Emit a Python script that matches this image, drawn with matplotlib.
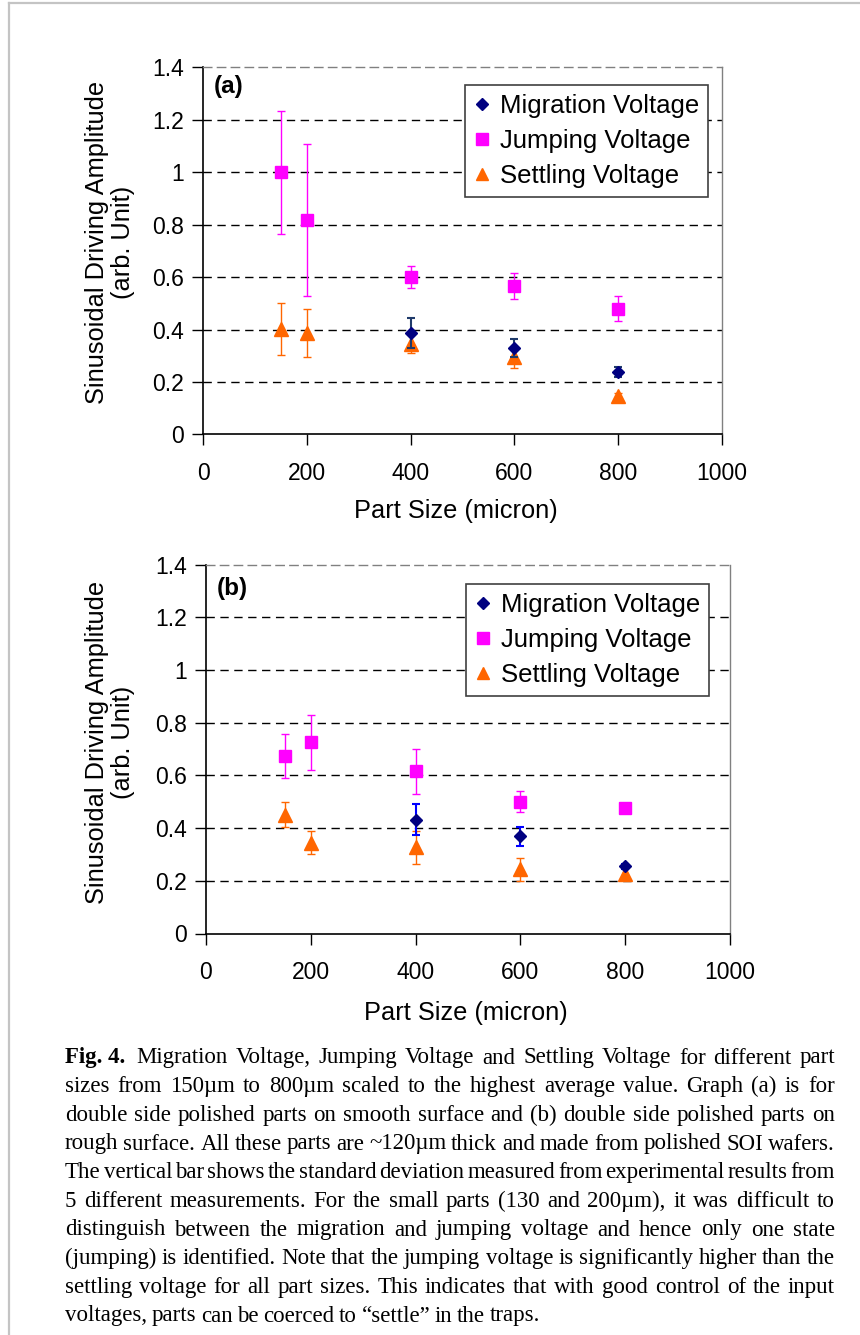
import matplotlib
matplotlib.use("Agg")
import matplotlib.pyplot as plt
from matplotlib.lines import Line2D

# ---------------- data ----------------
sizes = [150, 200, 400, 600, 800]
mig_sizes = [400, 600, 800]

a_jump = [1.00, 0.82, 0.60, 0.565, 0.48]
a_jump_err = [0.235, 0.29, 0.043, 0.05, 0.047]
a_mig = [0.387, 0.331, 0.239]
a_mig_err = [0.058, 0.035, 0.018]
a_set = [0.403, 0.387, 0.347, 0.295, 0.146]
a_set_err = [0.10, 0.09, 0.035, 0.04, 0.012]

b_jump = [0.675, 0.726, 0.615, 0.501, 0.476]
b_jump_err = [0.084, 0.104, 0.085, 0.04, 0.0]
b_mig = [0.432, 0.369, 0.255]
b_mig_err = [0.059, 0.035, 0.01]
b_set = [0.451, 0.344, 0.327, 0.243, 0.227]
b_set_err = [0.048, 0.044, 0.062, 0.044, 0.025]

xticks = [0, 200, 400, 600, 800, 1000]
yticks = [0, 0.2, 0.4, 0.6, 0.8, 1.0, 1.2, 1.4]
ytick_labels = ["0", "0.2", "0.4", "0.6", "0.8", "1", "1.2", "1.4"]
series_names = ["Migration Voltage", "Jumping Voltage", "Settling Voltage"]

caption_lines = [
    "Migration Voltage, Jumping Voltage and Settling Voltage for different part",
    "sizes from 150\u00b5m to 800\u00b5m scaled to the highest average value. Graph (a) is for",
    "double side polished parts on smooth surface and (b) double side polished parts on",
    "rough surface. All these parts are ~120\u00b5m thick and made from polished SOI wafers.",
    "The vertical bar shows the standard deviation measured from experimental results from",
    "5 different measurements. For the small parts (130 and 200\u00b5m), it was difficult to",
    "distinguish between the migration and jumping voltage and hence only one state",
    "(jumping) is identified. Note that the jumping voltage is significantly higher than the",
    "settling voltage for all part sizes. This indicates that with good control of the input",
    "voltages, parts can be coerced to \u201csettle\u201d in the traps.",
]

# ---------------- style ----------------
W, H = 860, 1335
plt.rcParams['font.family'] = ['Liberation Sans', 'DejaVu Sans']
NAVY = "#000080"
MAG = "#FF00FF"
ORA = "#FF6600"
TICK_FS = 16.5
LAB_FS = 18.3
LEG_FS = 18.5

fig = plt.figure(figsize=(W / 100, H / 100), dpi=100)


def px_axes(l, t, r, b):
    return [l / W, 1 - b / H, (r - l) / W, (b - t) / H]


def make_panel(rect, label, jump, jump_err, mig, mig_err, sett, sett_err,
               mig_err_color, leg_anchor, ylab_xy, label_xy):
    ax = fig.add_axes(rect)
    ax.set_xlim(0, 1000)
    ax.set_ylim(0, 1.4)
    ax.set_xticks(xticks)
    ax.set_yticks(yticks)
    ax.set_yticklabels(ytick_labels)
    ax.tick_params(axis='both', labelsize=TICK_FS, direction='out', length=8,
                   width=1, color='black')
    ax.tick_params(axis='x', pad=12)
    ax.tick_params(axis='y', pad=6)
    for yv in yticks[1:-1]:
        ax.axhline(yv, color='black', lw=1, ls=(0, (6, 4)), zorder=1)
    ax.spines['left'].set_color('black')
    ax.spines['bottom'].set_color('black')
    ax.spines['left'].set_linewidth(1.2)
    ax.spines['bottom'].set_linewidth(1.2)
    ax.spines['top'].set_color('#808080')
    ax.spines['top'].set_linestyle((0, (6, 4)))
    ax.spines['right'].set_color('#808080')
    ax.spines['top'].set_linewidth(1)
    ax.spines['right'].set_linewidth(1)

    ax.errorbar(sizes, jump, yerr=jump_err, fmt='s', color=MAG, ms=8.5,
                ecolor=MAG, elinewidth=1.0, capsize=3, capthick=1.0, zorder=3)
    ax.errorbar(mig_sizes, mig, yerr=mig_err, fmt='D', color=NAVY, ms=6,
                ecolor=mig_err_color, elinewidth=1.5, capsize=3, capthick=1.5,
                zorder=5)
    ax.errorbar(sizes, sett, yerr=sett_err, fmt='^', color=ORA, ms=9.5,
                ecolor=ORA, elinewidth=1.0, capsize=3, capthick=1.0, zorder=4)

    handles = [Line2D([], [], marker='D', color=NAVY, ls='none', ms=6),
               Line2D([], [], marker='s', color=MAG, ls='none', ms=8.5),
               Line2D([], [], marker='^', color=ORA, ls='none', ms=9)]
    leg = ax.legend(handles, series_names, loc='upper right',
                    bbox_to_anchor=leg_anchor, bbox_transform=fig.transFigure,
                    fontsize=LEG_FS, frameon=True, fancybox=False,
                    edgecolor='#404040', framealpha=1, borderpad=0.35,
                    handlelength=0.6, handletextpad=0.4, labelspacing=0.42,
                    borderaxespad=0)
    leg.get_frame().set_linewidth(1.2)

    ax.set_xlabel("Part Size (micron)", fontsize=LAB_FS)
    ax.set_ylabel("Sinusoidal Driving Amplitude\n(arb. Unit)", fontsize=LAB_FS,
                  linespacing=1.12)
    ax.yaxis.set_label_coords(*ylab_xy, transform=fig.transFigure)
    fig.text(label_xy[0], label_xy[1], label, fontsize=17.5,
             fontweight='bold', ha='left', va='center')
    return ax


# panel (a): plot area 203..722 x, 67.5..434.5 y (pixels)
axa = make_panel(px_axes(203, 67.5, 722, 434.5), "(a)",
                 a_jump, a_jump_err, a_mig, a_mig_err, a_set, a_set_err,
                 "#1F3A6A", (708 / W, 1 - 85 / H), (135 / W, 1 - 242 / H),
                 (214 / W, 1 - 87 / H))
axa.xaxis.set_label_coords(456 / W, 1 - 499 / H, transform=fig.transFigure)

# panel (b): plot area 206..730 x, 564.7..933.5 y
axb = make_panel(px_axes(206, 564.7, 730, 933.5), "(b)",
                 b_jump, b_jump_err, b_mig, b_mig_err, b_set, b_set_err,
                 "#0000FF", (709 / W, 1 - 584 / H), (135 / W, 1 - 742 / H),
                 (217 / W, 1 - 589 / H))
axb.xaxis.set_label_coords(466 / W, 1 - 1001 / H, transform=fig.transFigure)

# outer frame lines (left and top)
fig.add_artist(Line2D([9 / W, 9 / W], [0, 1 - 3 / H], transform=fig.transFigure,
                      color='#c4c4c4', lw=1.6))
fig.add_artist(Line2D([9 / W, 1], [1 - 3 / H, 1 - 3 / H], transform=fig.transFigure,
                      color='#c4c4c4', lw=1.6))

# ---------------- caption (justified) ----------------
renderer = fig.canvas.get_renderer()
X0, X1 = 65, 835
Y_FIRST, Y_LAST = 1058, 1316
serif = ['Liberation Serif', 'DejaVu Serif']


def measure(s, fs, weight='normal'):
    t = fig.text(0, 0, s, fontsize=fs, family=serif, fontweight=weight)
    w = t.get_window_extent(renderer).width
    t.remove()
    return w


# choose font size so every justified line fits with a sensible space
cap_fs = 17.0
while cap_fs > 9:
    ok = True
    sp = measure("a a", cap_fs) - measure("aa", cap_fs)
    for i, line in enumerate(caption_lines):
        words = line.split(' ')
        wsum = sum(measure(wd, cap_fs) for wd in words)
        if i == 0:
            wsum += measure("Fig. 4.", cap_fs, 'bold') + 2 * sp
        gaps = len(words) - 1
        if X0 + wsum + gaps * sp * 0.5 > X1:
            ok = False
            break
    if ok:
        break
    cap_fs -= 0.25

n = len(caption_lines)
step = (Y_LAST - Y_FIRST) / (n - 1)
sp = measure("a a", cap_fs) - measure("aa", cap_fs)
for i, line in enumerate(caption_lines):
    y = 1 - (Y_FIRST + i * step) / H
    words = line.split(' ')
    widths = [measure(wd, cap_fs) for wd in words]
    x = X0
    if i == 0:
        fig.text(x / W, y, "Fig. 4.", fontsize=cap_fs, family=serif,
                 fontweight='bold', ha='left', va='center')
        x += measure("Fig. 4.", cap_fs, 'bold') + 2 * sp
    if i == n - 1:
        gap = sp * 0.8
    else:
        gap = (X1 - x - sum(widths)) / (len(words) - 1)
    for wd, wdt in zip(words, widths):
        fig.text(x / W, y, wd, fontsize=cap_fs, family=serif, ha='left',
                 va='center')
        x += wdt + gap

fig.savefig("out.png", dpi=100)
